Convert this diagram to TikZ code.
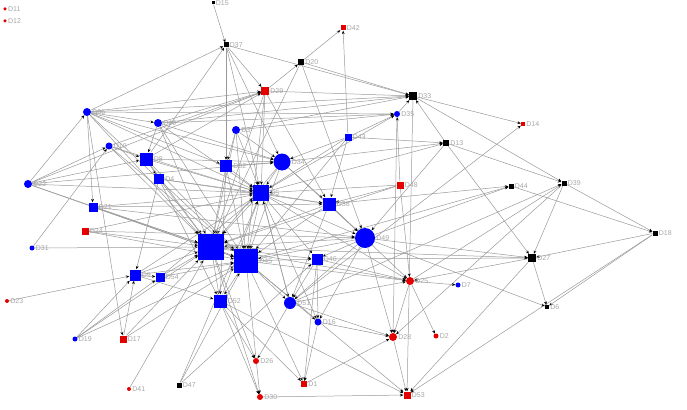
\documentclass[tikz,border=0pt]{standalone}
\usepackage{fontspec}
\setmainfont{Liberation Sans}
\usetikzlibrary{arrows.meta,backgrounds}

\begin{document}
\begin{tikzpicture}[
        x=1pt, y=-1pt,
        bsq/.style={rectangle, fill=blue, inner sep=0pt, minimum size=#1},
        bci/.style={circle, fill=blue, inner sep=0pt, minimum size=#1},
        rsq/.style={rectangle, fill=red!90!black, inner sep=0pt, minimum size=#1},
        rci/.style={circle, fill=red!90!black, inner sep=0pt, minimum size=#1},
        ksq/.style={rectangle, fill=black, inner sep=0pt, minimum size=#1},
        lbl/.style={font=\fontsize{7}{8}\selectfont, text=gray!70, inner sep=1pt},
        link/.style={draw=gray!80, line width=0.5pt,
            -{Stealth[length=3.4pt, width=2.8pt, color=black]}}
    ]
        \useasboundingbox (0,0) rectangle (687,409);

        % isolated and outer nodes
        \node[rci=3.5, label={[lbl]right:D11}] (d11) at (5,9) {};
        \node[rci=3.5, label={[lbl]right:D12}] (d12) at (5,21) {};
        \node[ksq=3, label={[lbl]right:D15}] (d15) at (213,3) {};
        \node[ksq=5, label={[lbl]right:D37}] (d37) at (226,45) {};
        \node[rsq=5, label={[lbl]right:D42}] (d42) at (343,28) {};
        \node[ksq=6, label={[lbl]right:D20}] (d20) at (301,62) {};
        \node[rsq=8, label={[lbl]right:D29}] (d29) at (265,91) {};
        \node[ksq=8, label={[lbl]right:D33}] (d33) at (413,96) {};
        \node[bci=6, label={[lbl]right:D35}] (d35) at (397,114) {};
        \node[bci=8, label={[lbl]right:D36}] (d36) at (87,112) {};
        \node[bci=8, label={[lbl]right:D40}] (d40) at (158,123) {};
        \node[rsq=4, label={[lbl]right:D14}] (d14) at (523,124) {};
        \node[ksq=6, label={[lbl]right:D13}] (d13) at (446,143) {};
        \node[ksq=5, label={[lbl]right:D44}] (d44) at (511,186) {};
        \node[ksq=5, label={[lbl]right:D39}] (d39) at (564,183) {};
        \node[ksq=5, label={[lbl]right:D18}] (d18) at (655,233) {};
        \node[ksq=8, label={[lbl]right:D27}] (d27) at (532,258) {};
        \node[bci=5, label={[lbl]right:D7}] (d7) at (458,285) {};
        \node[ksq=4, label={[lbl]right:D6}] (d6) at (547,307) {};
        \node[rci=8, label={[lbl]right:D25}] (d25) at (410,281) {};
        \node[rci=5, label={[lbl]right:D2}] (d2) at (436,336) {};
        \node[rci=8, label={[lbl]right:D28}] (d28) at (393,337) {};
        \node[rsq=7, label={[lbl]right:D53}] (d53) at (407,395) {};
        \node[rsq=6, label={[lbl]right:D1}] (d1) at (304,384) {};
        \node[rci=6, label={[lbl]right:D30}] (d30) at (260,397) {};
        \node[rci=6, label={[lbl]right:D26}] (d26) at (256,361) {};
        \node[bci=7, label={[lbl]right:D16}] (d16) at (318,322) {};
        \node[bci=12, label={[lbl]right:D51}] (d51) at (290,303) {};
        \node[bsq=13, label={[lbl]right:D52}] (d52) at (220,301) {};
        \node[bsq=11, label={[lbl]right:D46}] (d46) at (317,259) {};
        \node[bsq=26, label={[lbl]right:D50}] (d50) at (211,247) {};
        \node[bsq=24, label={[lbl]right:D45}] (d45) at (246,261) {};
        \node[bci=20, label={[lbl]right:D49}] (d49) at (365,238) {};
        \node[bsq=13, label={[lbl]right:D38}] (d38) at (329,204) {};
        \node[rsq=7, label={[lbl]right:D48}] (d48) at (400,185) {};
        \node[bsq=16, label={[lbl]right:D5}] (d5) at (261,193) {};
        \node[bsq=12, label={[lbl]right:D32}] (d32) at (226,166) {};
        \node[bci=17, label={[lbl]right:D34}] (d34) at (282,162) {};
        \node[bci=8, label={[lbl]right:D3}] (d3) at (236,130) {};
        \node[bsq=7, label={[lbl]right:D43}] (d43) at (348,137) {};
        \node[bsq=13, label={[lbl]right:D8}] (d8) at (146,159) {};
        \node[bsq=10, label={[lbl]right:D4}] (d4) at (159,179) {};
        \node[bci=7, label={[lbl]right:D10}] (d10) at (109,146) {};
        \node[bci=8, label={[lbl]right:D22}] (d22) at (28,184) {};
        \node[bsq=9, label={[lbl]right:D21}] (d21) at (93,207) {};
        \node[rsq=7, label={[lbl]right:D24}] (d24) at (85,231) {};
        \node[bci=5, label={[lbl]right:D31}] (d31) at (32,248) {};
        \node[rci=4, label={[lbl]right:D23}] (d23) at (7,301) {};
        \node[bsq=11, label={[lbl]right:D9}] (d9) at (135,275) {};
        \node[bsq=9, label={[lbl]right:D54}] (d54) at (160,277) {};
        \node[bci=5, label={[lbl]right:D19}] (d19) at (75,339) {};
        \node[rsq=7, label={[lbl]right:D17}] (d17) at (123,339) {};
        \node[rci=4, label={[lbl]right:D41}] (d41) at (129,389) {};
        \node[ksq=5, label={[lbl]right:D47}] (d47) at (179,385) {};

        \begin{scope}[on background layer]
        \foreach \a/\b in {d15/d37, d36/d37, d8/d37, d37/d33, d37/d29, d37/d5, d37/d34, d37/d32,
            d20/d42, d43/d42, d29/d20, d20/d33, d20/d49, d20/d50,
            d29/d33, d36/d29, d40/d29, d10/d29, d22/d29, d29/d45, d29/d50, d8/d29, d29/d5, d29/d38,
            d35/d33, d36/d33, d3/d33, d40/d33, d33/d14, d33/d39, d33/d53,
            d48/d35, d43/d35, d5/d35, d3/d35, d40/d35, d36/d35, d35/d28, d51/d14,
            d34/d13, d5/d13, d43/d13, d13/d27, d13/d39, d13/d49, d13/d33,
            d45/d44, d49/d44, d38/d44, d44/d18,
            d39/d18, d39/d27, d51/d39, d25/d39, d39/d28,
            d18/d27, d18/d6, d18/d53, d27/d6, d50/d27, d49/d27, d46/d27, d27/d53, d27/d25,
            d25/d7, d49/d6,
            d45/d25, d50/d25, d46/d25, d38/d25, d51/d25, d5/d25, d25/d28, d25/d2, d48/d25,
            d1/d28, d51/d28, d49/d28, d28/d53, d16/d28,
            d30/d53, d45/d53, d52/d53,
            d46/d1, d16/d1, d45/d1, d52/d1, d52/d30, d45/d30, d50/d30,
            d52/d26, d51/d26, d50/d26,
            d46/d16, d49/d16, d45/d16, d5/d16,
            d45/d51, d46/d51, d38/d51, d49/d51, d5/d51,
            d50/d52, d45/d52, d9/d52, d4/d52, d32/d52,
            d45/d46, d50/d46, d49/d46, d5/d46,
            d23/d9, d19/d9, d19/d54, d19/d50, d19/d45,
            d17/d9, d17/d45, d17/d50, d36/d17, d41/d50,
            d47/d45, d47/d5, d47/d46,
            d22/d10, d22/d36, d22/d8, d22/d45, d22/d34, d22/d5, d22/d50,
            d31/d50, d31/d10, d24/d50, d24/d45, d24/d49, d24/d5,
            d21/d50, d21/d45, d21/d38, d21/d49, d21/d5,
            d36/d40, d36/d32, d36/d34, d36/d5, d36/d21, d36/d50, d36/d45,
            d10/d8, d10/d5, d10/d45, d10/d50, d40/d8, d40/d34, d40/d5, d40/d45, d40/d50,
            d8/d4, d8/d5, d8/d50, d8/d34, d8/d45,
            d4/d50, d4/d9, d4/d5, d4/d38,
            d3/d32, d3/d34, d3/d5, d3/d50, d3/d45,
            d32/d5, d32/d34, d32/d50, d32/d45,
            d34/d5, d34/d38, d34/d49, d34/d45, d34/d50,
            d5/d45, d5/d50, d5/d38, d5/d49,
            d43/d34, d43/d38, d43/d5, d43/d45,
            d48/d5, d48/d50, d48/d38,
            d38/d49, d38/d45, d38/d50, d49/d45, d49/d50,
            d9/d50, d9/d54, d9/d45, d9/d5, d54/d50, d54/d45, d54/d5,
            d52/d5, d51/d5, d50/d45}
            \draw[link] (\a) -- (\b);
        \end{scope}
    \end{tikzpicture}
\end{document}
